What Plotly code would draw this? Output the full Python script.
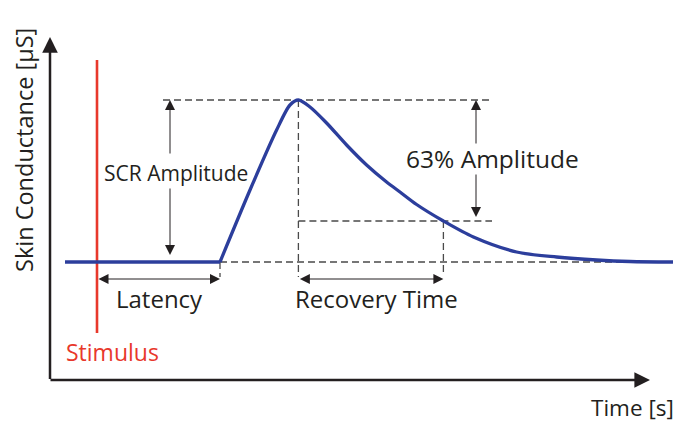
import plotly.graph_objects as go

# ---- data (schematic units: time [s] on x, conductance [µS] on y) ----
baseline_level = 11.8
peak_level = 28.0
recovery_level = 15.9

# flat pre-response part of the SCR curve
flat_t = [0.75, 8.5]
flat_sc = [baseline_level, baseline_level]

# response part (rise, peak, decay)
resp_t = [8.5, 10.0, 11.33, 12.0, 12.42, 13.0, 13.83, 14.83, 15.83, 16.83, 17.5,
          18.33, 19.67, 21.17, 23.33, 25.33, 27.33, 29.0, 31.15]
resp_sc = [11.8, 19.0, 25.0, 27.5, 28.0, 27.3, 25.7, 23.5, 21.5, 19.8, 18.8,
           17.55, 15.9, 14.3, 12.8, 12.3, 12.0, 11.85, 11.8]

onset_t = 8.5
peak_t = 12.42
recovery_t = 19.67

stimulus_t = 2.35
stimulus_span = [4.7, 32.0]

axis_x_end = 30.0
axis_y_end = 34.3

# dashed guide extents
peak_guide_t = [5.65, 22.1]
recovery_guide_t = [peak_t, 22.1]
baseline_guide_t = [onset_t, 30.15]
guide_bottom = 10.3

# measurement arrows
scr_arrow_t = 6.0
scr_arrow_top = [22.5, 28.0]
scr_arrow_bottom = [19.3, 12.5]
amp63_arrow_t = 21.3
amp63_arrow_top = [23.5, 28.0]
amp63_arrow_bottom = [20.7, 16.3]
time_arrow_level = 10.1

# label text, x, y, font size
labels = [
    ("SCR Amplitude", 6.3, 20.7, 21, "ink"),
    ("63% Amplitude", 22.1, 22.2, 24.5, "ink"),
    ("Latency", 5.45, 8.2, 24, "ink"),
    ("Recovery Time", 16.3, 8.2, 24, "ink"),
    ("Stimulus", 3.1, 2.8, 23, "red"),
    ("Time [s]", 29.1, -2.7, 22.5, "ink"),
]
ytitle = ("Skin Conductance [µS]", -1.3, 23.0, 23.5)

BLUE = "#2c3e9c"
RED = "#e8382b"
GREY = "#4a4a4a"
INK = "#231f20"
FONT = "Open Sans"

fig = go.Figure()

dash = "7px,4px"
def guide(xs, ys):
    fig.add_trace(go.Scatter(x=xs, y=ys, mode="lines",
                             line=dict(color=GREY, width=1.3, dash=dash),
                             hoverinfo="skip", showlegend=False))

guide(peak_guide_t, [peak_level, peak_level])
guide([peak_t, peak_t], [peak_level, guide_bottom])
guide(recovery_guide_t, [recovery_level, recovery_level])
guide([recovery_t, recovery_t], [recovery_level, guide_bottom + 0.2])
guide(baseline_guide_t, [baseline_level, baseline_level])
guide([onset_t, onset_t], [baseline_level, guide_bottom])

# stimulus marker
fig.add_trace(go.Scatter(x=[stimulus_t, stimulus_t], y=stimulus_span, mode="lines",
                         line=dict(color=RED, width=2.6),
                         hoverinfo="skip", showlegend=False))

# SCR curve
fig.add_trace(go.Scatter(x=flat_t, y=flat_sc, mode="lines",
                         line=dict(color=BLUE, width=3.3),
                         hoverinfo="skip", showlegend=False))
fig.add_trace(go.Scatter(x=resp_t, y=resp_sc, mode="lines",
                         line=dict(color=BLUE, width=3.3, shape="spline", smoothing=0.8),
                         hoverinfo="skip", showlegend=False))

annotations = []

def arrow(x, y, ax, ay, width=1.0, size=2.0, both=False, color=INK):
    annotations.append(dict(x=x, y=y, ax=ax, ay=ay, xref="x", yref="y",
                            axref="x", ayref="y", text="", showarrow=True,
                            arrowhead=2, arrowsize=size, arrowwidth=width,
                            arrowcolor=color, standoff=0, startstandoff=0,
                            arrowside="end+start" if both else "end",
                            startarrowhead=2, startarrowsize=size))

# axes
arrow(0, axis_y_end, 0, -0.05, width=2.5, size=1.25)
arrow(axis_x_end, 0, -0.05, 0, width=2.5, size=1.25)

# amplitude arrows (split around their labels)
arrow(scr_arrow_t, scr_arrow_top[1], scr_arrow_t, scr_arrow_top[0])
arrow(scr_arrow_t, scr_arrow_bottom[1], scr_arrow_t, scr_arrow_bottom[0])
arrow(amp63_arrow_t, amp63_arrow_top[1], amp63_arrow_t, amp63_arrow_top[0])
arrow(amp63_arrow_t, amp63_arrow_bottom[1], amp63_arrow_t, amp63_arrow_bottom[0])

# time arrows (double headed)
arrow(onset_t, time_arrow_level, stimulus_t, time_arrow_level, both=True)
arrow(recovery_t, time_arrow_level, peak_t, time_arrow_level, both=True)

for txt, tx, ty, fs, col in labels:
    annotations.append(dict(x=tx, y=ty, xref="x", yref="y", text=txt, showarrow=False,
                            font=dict(family=FONT, size=fs,
                                      color=RED if col == "red" else INK),
                            xanchor="center", yanchor="middle"))

annotations.append(dict(x=ytitle[1], y=ytitle[2], xref="x", yref="y", text=ytitle[0],
                        showarrow=False, textangle=-90,
                        font=dict(family=FONT, size=ytitle[3], color=INK),
                        xanchor="center", yanchor="middle"))

fig.update_layout(
    width=682, height=423,
    margin=dict(l=0, r=0, t=0, b=0, pad=0),
    paper_bgcolor="white", plot_bgcolor="white",
    xaxis=dict(range=[-2.5, 31.6], visible=False, fixedrange=True),
    yaxis=dict(range=[-4.3, 38], visible=False, fixedrange=True),
    annotations=annotations,
    showlegend=False,
)

fig.write_html("out.html", config={"displayModeBar": False},
               post_script="document.body.style.margin='0px';")
